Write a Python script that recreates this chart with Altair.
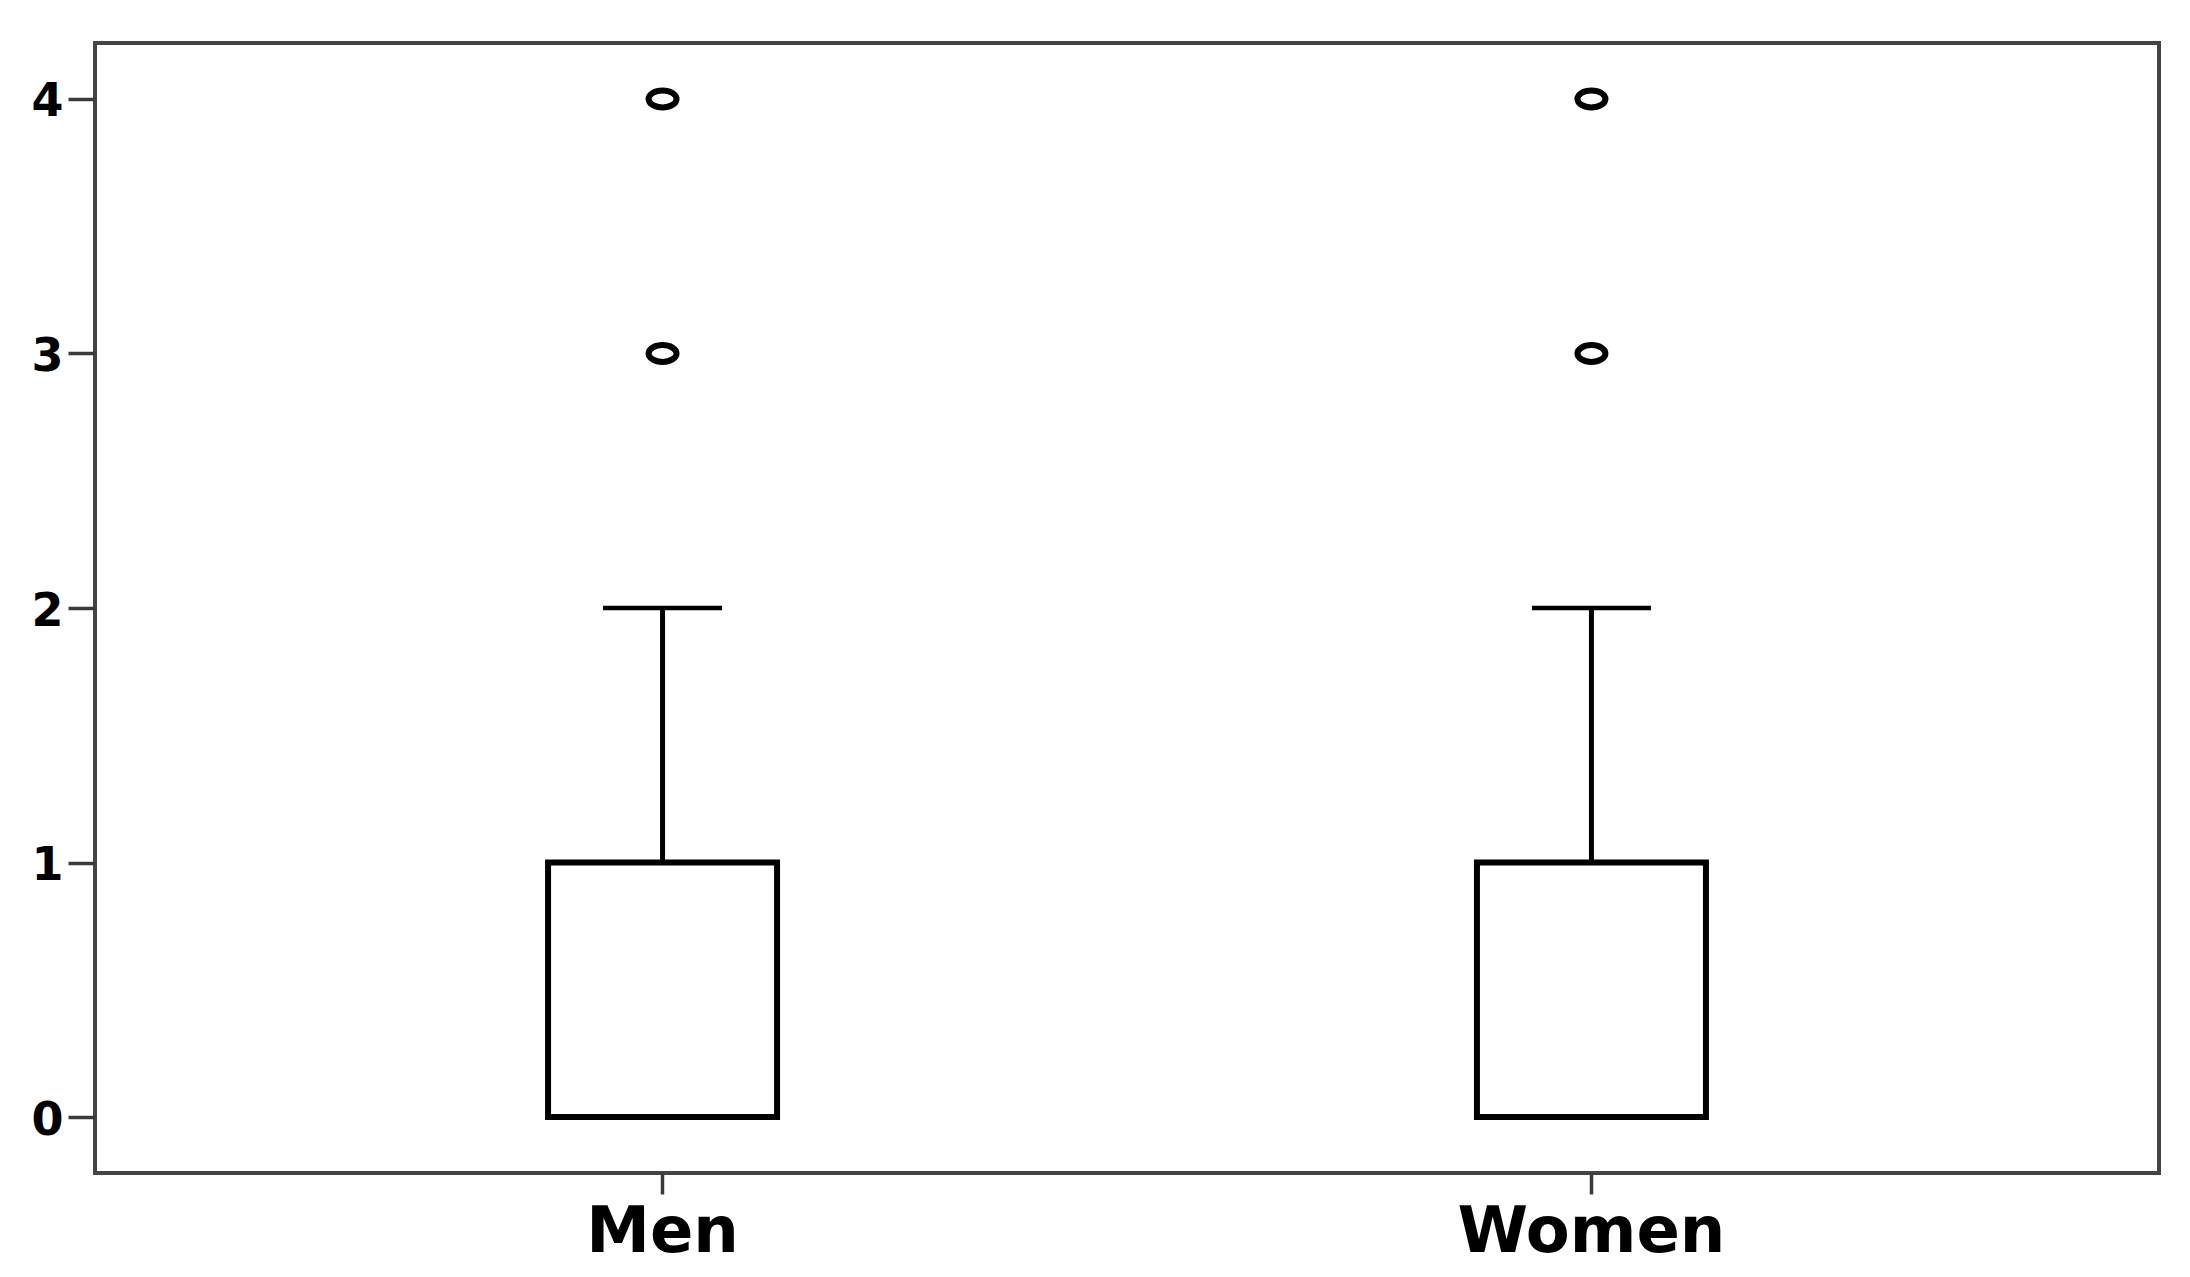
import altair as alt
import pandas as pd

groups = ["Men", "Women"]
q1 = [0, 0]
median = [0, 0]
q3 = [1, 1]
whisker_low = [0, 0]
whisker_high = [2, 2]
outlier_group = ["Men", "Men", "Women", "Women"]
outlier_value = [3, 4, 3, 4]
y_ticks = [0, 1, 2, 3, 4]

summary = pd.DataFrame({
    "group": groups, "q1": q1, "median": median, "q3": q3,
    "lo": whisker_low, "hi": whisker_high,
})
outliers = pd.DataFrame({"group": outlier_group, "value": outlier_value})

FONT = "DejaVu Sans"

x_enc = alt.X(
    "group:N",
    sort=groups,
    scale=alt.Scale(paddingInner=0.5, paddingOuter=0.361),
    axis=alt.Axis(
        title=None, labelAngle=0, labelFont=FONT, labelFontWeight="bold",
        labelFontSize=64, labelColor="#000", tickSize=21, tickWidth=3.5,
        tickColor="#3a3a3a", domain=False, labelPadding=6, labelLimit=1000,
    ),
)
y_scale = alt.Scale(domain=[-0.22, 4.22], nice=False, zero=False)
y_axis = alt.Axis(
    title=None, values=y_ticks, format="d", labelFont=FONT,
    labelFontWeight="bold", labelFontSize=46, labelColor="#000",
    tickSize=27, tickWidth=3.5, tickColor="#3a3a3a", domain=False, grid=False,
    labelPadding=5, labelLimit=1000, labelOffset=3,
)

base = alt.Chart(summary)

box = base.mark_bar(
    fill="white", stroke="black", strokeWidth=6, size=229
).encode(
    x=x_enc,
    y=alt.Y("q1:Q", scale=y_scale, axis=y_axis),
    y2="q3:Q",
)

whisker_up = base.mark_rule(color="black", strokeWidth=5).encode(
    x=x_enc, y=alt.Y("q3:Q", scale=y_scale), y2="hi:Q"
)
whisker_down = base.mark_rule(color="black", strokeWidth=5).encode(
    x=x_enc, y=alt.Y("lo:Q", scale=y_scale), y2="q1:Q"
)
cap = base.mark_tick(color="black", size=119, thickness=4.5, opacity=1).encode(
    x=x_enc, y=alt.Y("hi:Q", scale=y_scale)
)
med = base.mark_tick(color="black", size=229, thickness=6, opacity=1).encode(
    x=x_enc, y=alt.Y("median:Q", scale=y_scale)
)

ellipse = "M -1 0 A 1 0.6 0 1 0 1 0 A 1 0.6 0 1 0 -1 0 Z"
outs = alt.Chart(outliers).mark_point(
    shape=ellipse, filled=False, stroke="black", strokeWidth=6, size=784, opacity=1
).encode(
    x=x_enc, y=alt.Y("value:Q", scale=y_scale)
)

chart = alt.layer(box, whisker_up, whisker_down, cap, med, outs).properties(
    width=2064, height=1130,
    autosize=alt.AutoSizeParams(type="none"),
    padding={"left": 87, "top": 35, "right": 20, "bottom": 100},
).configure(
    background="white",
    view=alt.ViewConfig(stroke="#444", strokeWidth=4, fill="white"),
)

chart.save("out.html", embed_options={"renderer": "svg", "actions": False})
